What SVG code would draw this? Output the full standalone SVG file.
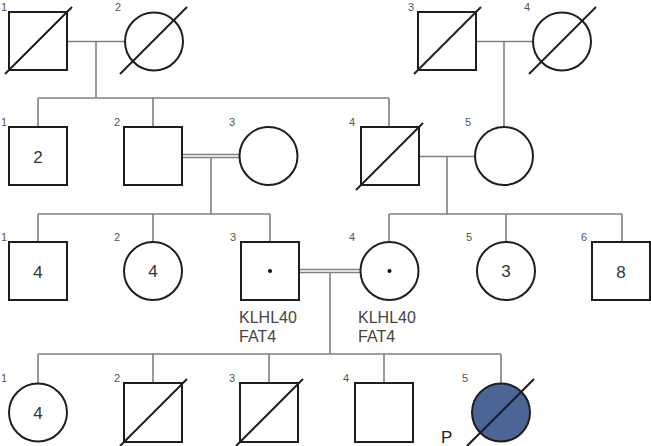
<svg xmlns="http://www.w3.org/2000/svg" width="651" height="446" viewBox="0 0 651 446">
<style>
.n{fill:#fff;stroke:#1e1e1e;stroke-width:2}
.d{stroke:#1e1e1e;stroke-width:2}
.c{fill:none;stroke:#808080;stroke-width:1.6}
.lb{font-family:"Liberation Sans",Arial,sans-serif;font-size:11px;fill:#555}
.in{font-family:"Liberation Sans",Arial,sans-serif;font-size:17px;fill:#333;text-anchor:middle}
.g{font-family:"Liberation Sans",Arial,sans-serif;font-size:16px;fill:#444}
</style>
<rect width="651" height="446" fill="#fff"/>
<g id="connectors" class="c">
<path d="M67 41.5H125M96 41.5V98M38 98H389M38 98V127M153 98V127M389 98V127"/>
<path d="M476 41.5H533M504 41.5V127"/>
<path d="M182 154.5H239.5M182 157.5H239.5M211 157.5V214M38 214H270M38 214V242M153 214V242M270 214V242"/>
<path d="M418 156.5H475M447 156.5V214M389 214H622M389 214V242M506 214V242M622 214V242"/>
<path d="M299 269.5H360.5M299 272.5H360.5M330 272.5V354M38 354H501M38 354V383.5M153 354V383M269 354V383M384 354V383M501 354V383.5"/>
</g>
<g id="I-1"><rect class="n" x="9" y="12" width="58" height="58"/><line class="d" x1="5" y1="74" x2="72" y2="7"/><text class="lb" x="1" y="11">1</text></g>
<g id="I-2"><circle class="n" cx="154" cy="41.5" r="29"/><line class="d" x1="120" y1="74" x2="187" y2="7"/><text class="lb" x="115" y="11">2</text></g>
<g id="I-3"><rect class="n" x="418" y="12" width="58" height="58"/><line class="d" x1="414" y1="74" x2="481" y2="7"/><text class="lb" x="408" y="11">3</text></g>
<g id="I-4"><circle class="n" cx="562" cy="41.5" r="29"/><line class="d" x1="529" y1="74" x2="596" y2="7"/><text class="lb" x="524" y="11">4</text></g>
<g id="II-1"><rect class="n" x="9" y="127" width="58" height="58"/><text class="in" x="38" y="163">2</text><text class="lb" x="1" y="126">1</text></g>
<g id="II-2"><rect class="n" x="124" y="127" width="58" height="58"/><text class="lb" x="114" y="126">2</text></g>
<g id="II-3"><circle class="n" cx="268.5" cy="156" r="29"/><text class="lb" x="229" y="126">3</text></g>
<g id="II-4"><rect class="n" x="361" y="127" width="58" height="58"/><line class="d" x1="356" y1="190" x2="423" y2="123"/><text class="lb" x="349" y="126">4</text></g>
<g id="II-5"><circle class="n" cx="504" cy="156" r="29"/><text class="lb" x="465" y="126">5</text></g>
<g id="III-1"><rect class="n" x="9" y="242" width="58" height="58"/><text class="in" x="38" y="278">4</text><text class="lb" x="1" y="241">1</text></g>
<g id="III-2"><circle class="n" cx="153" cy="271" r="29"/><text class="in" x="153" y="277">4</text><text class="lb" x="114" y="241">2</text></g>
<g id="III-3"><rect class="n" x="241" y="242" width="58" height="58"/><circle cx="270" cy="271" r="2" fill="#111"/><text class="lb" x="230" y="241">3</text><text class="g" x="239" y="323">KLHL40</text><text class="g" x="239" y="342">FAT4</text></g>
<g id="III-4"><circle class="n" cx="389.5" cy="271" r="29"/><circle cx="389.5" cy="271" r="2" fill="#111"/><text class="lb" x="349" y="241">4</text><text class="g" x="358" y="323">KLHL40</text><text class="g" x="358" y="342">FAT4</text></g>
<g id="III-5"><circle class="n" cx="506" cy="271" r="29"/><text class="in" x="506" y="277">3</text><text class="lb" x="466" y="241">5</text></g>
<g id="III-6"><rect class="n" x="592" y="242" width="58" height="58"/><text class="in" x="621" y="278">8</text><text class="lb" x="581" y="241">6</text></g>
<g id="IV-1"><circle class="n" cx="38" cy="412.5" r="29"/><text class="in" x="38" y="419">4</text><text class="lb" x="1" y="382">1</text></g>
<g id="IV-2"><rect class="n" x="124" y="383" width="58" height="59"/><line class="d" x1="120" y1="446" x2="187" y2="379"/><text class="lb" x="114" y="382">2</text></g>
<g id="IV-3"><rect class="n" x="240" y="383" width="58" height="59"/><line class="d" x1="236" y1="446" x2="303" y2="379"/><text class="lb" x="229" y="382">3</text></g>
<g id="IV-4"><rect class="n" x="355" y="383" width="58" height="59"/><text class="lb" x="343" y="382">4</text></g>
<g id="IV-5"><circle cx="501" cy="412.5" r="29" fill="#4a6596" stroke="#1e1e1e" stroke-width="2"/><line class="d" x1="467" y1="446" x2="534" y2="379"/><text class="lb" x="462" y="382">5</text><text class="g" x="441" y="443" style="font-size:17px;fill:#222">P</text></g>
</svg>
